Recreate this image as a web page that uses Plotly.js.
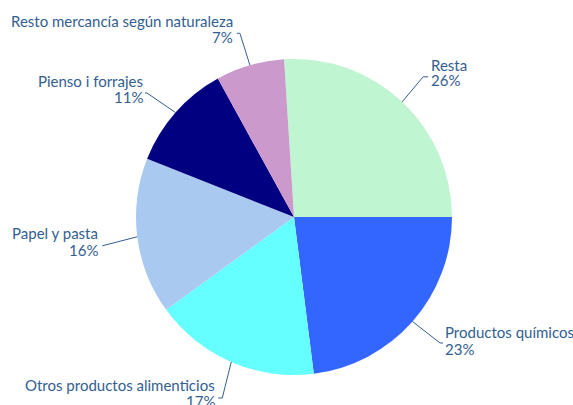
<!DOCTYPE html>
<html>
<head>
<meta charset="utf-8">
<script src="https://cdn.plot.ly/plotly-3.0.1.min.js"></script>
<style>html,body{margin:0;padding:0;background:#fff;}#chart{width:573px;height:405px;}</style>
</head>
<body>
<div id="chart"></div>
<script>
// Data
const categories = ["Resta", "Productos químicos", "Otros productos alimenticios", "Papel y pasta", "Pienso i forrajes", "Resto mercancía según naturaleza"];
const values = [26, 23, 17, 16, 11, 7];
const colors = ["#C0F5D2", "#3366FF", "#66FFFF", "#A9C9F0", "#000080", "#CC99CC"];

// Layout / style parameters
const W = 573, H = 405;
const cx = 294, cy = 217, R = 158;
const textColor = "#335E91";
// leader elbow offsets (px) from slice edge, horizontal tick length, gap to text
const elbow = [[21, -25], [27.5, 21.5], [-9, 36], [-35, 9], [-28.5, -19.5], [-10, -32]];
const tick = [5, 3, -4, 0, -2, -3];
const textGap = [2, 1, -2, -3, -1, -3];
const nameDy = [-12, -11, -13, -13, -12, -12];
const pctDy = [3, 6, 3, 4, 4, 3.5];

const total = values.reduce((a, b) => a + b, 0);
const rotation = 90 - 360 * values[0] / total;

const px = x => x / W;
const py = y => 1 - y / H;

const shapes = [];
const annotations = [];
const font = {family: "Lato, 'Open Sans', sans-serif", size: 15, color: textColor};
let start = rotation;
values.forEach((v, i) => {
  const span = 360 * v / total;
  const mid = (start + span / 2) * Math.PI / 180;
  start += span;
  const ex = cx + R * Math.sin(mid), ey = cy - R * Math.cos(mid);
  const bx = ex + elbow[i][0], by = ey + elbow[i][1];
  const tx = bx + tick[i];
  shapes.push({
    type: "path", xref: "paper", yref: "paper",
    path: `M ${px(ex)} ${py(ey)} L ${px(bx)} ${py(by)} L ${px(tx)} ${py(by)}`,
    line: {color: textColor, width: 1}
  });
  const right = elbow[i][0] > 0;
  const common = {
    xref: "paper", yref: "paper",
    x: px(tx + textGap[i]),
    xanchor: right ? "left" : "right", yanchor: "middle",
    showarrow: false, borderpad: 0, font: font
  };
  annotations.push(Object.assign({}, common, {y: py(by + nameDy[i]), text: categories[i]}));
  annotations.push(Object.assign({}, common, {y: py(by + pctDy[i]), text: Math.round(100 * v / total) + "%"}));
});

const trace = {
  type: "pie",
  labels: categories,
  values: values,
  sort: false,
  direction: "clockwise",
  rotation: rotation,
  marker: {colors: colors, line: {width: 0}},
  textinfo: "none",
  hoverinfo: "label+percent",
  showlegend: false,
  domain: {x: [(cx - R) / W, (cx + R) / W], y: [1 - (cy + R) / H, 1 - (cy - R) / H]}
};

const layout = {
  width: W, height: H,
  margin: {l: 0, r: 0, t: 0, b: 0},
  paper_bgcolor: "#ffffff",
  showlegend: false,
  shapes: shapes,
  annotations: annotations
};

Plotly.newPlot("chart", [trace], layout, {displayModeBar: false, staticPlot: true});
</script>
</body>
</html>
